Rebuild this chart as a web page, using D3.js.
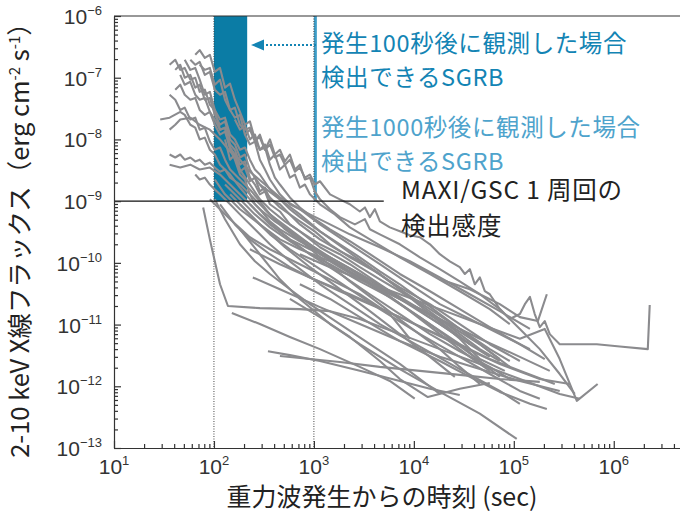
<!DOCTYPE html>
<html>
<head>
<meta charset="utf-8">
<script src="https://cdn.jsdelivr.net/npm/d3@7"></script>
<style>
  body { margin: 0; background: #fff; }
</style>
</head>
<body>
<div id="chart"></div>
<script>
/* SGRB X-ray light curves vs. MAXI/GSC sensitivity */

// axis ticks (powers of ten)
const xTickExps = [1, 2, 3, 4, 5, 6];
const yTickExps = [-13, -12, -11, -10, -9, -8, -7, -6];

// observation windows and sensitivity [sec] / [erg cm^-2 s^-1]
const window100 = [100, 215];
const window1000 = [1000, 1070];
const timeMarks = [100, 1000];
const maxiSensitivity = 1e-9;
const sensitivityEnd = 5000;

// light curves: [time (s), flux]
const lc01 = [[65,2.35e-7],[72,2.8e-7],[81,2.1e-7],[91,2.35e-7],[102,1.24e-7],[115,1.44e-7],[129,6.9e-8],[145,8.0e-8],[162,4.4e-8],[182,2.8e-8],[204,1.73e-8],[229,1.96e-8],[257,1.0e-8],[288,6.8e-9],[324,7.4e-9],[363,3.9e-9],[407,2.4e-9],[457,1.86e-9],[575,1.15e-9],[724,7.9e-10],[1020,5.1e-10],[1450,3.5e-10],[2290,2.24e-10],[4070,1.23e-10],[7240,6.6e-11],[1.45e4,3.47e-11],[2.88e4,1.78e-11],[5.75e4,9.1e-12],[1.15e5,4.8e-12],[2.04e5,2.76e-12]];
const lc02 = [[36,1.62e-7],[41,1.95e-7],[46,1.34e-7],[51,1.44e-7],[58,9.3e-8],[65,1.0e-7],[72,5.9e-8],[81,6.4e-8],[91,3.65e-8],[102,3.0e-8],[115,2.1e-8],[129,2.25e-8],[145,1.2e-8],[162,1.0e-8],[182,6.8e-9],[204,7.4e-9],[229,4.7e-9],[257,3.25e-9],[288,2.7e-9],[363,1.55e-9],[457,1.07e-9],[575,7.4e-10],[724,5.5e-10],[1150,3.24e-10],[1820,2.0e-10],[2880,1.23e-10],[4570,7.3e-11],[7240,4.5e-11],[1.15e4,2.6e-11],[1.82e4,1.48e-11],[2.88e4,8.5e-12],[4.57e4,4.8e-12],[7.24e4,2.76e-12]];
const lc03 = [[46,1.11e-7],[51,7.7e-8],[58,8.6e-8],[65,5.3e-8],[72,4.4e-8],[81,4.7e-8],[91,2.8e-8],[102,2.1e-8],[115,1.44e-8],[129,1.55e-8],[145,8.3e-9],[162,6.8e-9],[182,3.9e-9],[204,4.4e-9],[229,2.4e-9],[257,1.86e-9],[288,1.29e-9],[324,1.44e-9],[363,8.9e-10],[457,6.8e-10],[575,4.2e-10],[724,3.24e-10],[1150,2.0e-10],[1820,1.38e-10],[2880,8.5e-11],[4570,5.4e-11],[7240,3.47e-11],[1.15e4,2.14e-11],[1.82e4,1.23e-11],[2.88e4,7.0e-12],[4.57e4,4.0e-12],[7.24e4,2.57e-12]];
const lc04 = [[72,1.62e-7],[81,1.34e-7],[91,1.44e-7],[102,7.7e-8],[115,9.3e-8],[129,4.4e-8],[145,3.0e-8],[162,3.27e-8],[182,1.73e-8],[204,1.44e-8],[229,1.55e-8],[257,1.0e-8],[288,1.07e-8],[324,6.8e-9],[363,8.3e-9],[407,5.1e-9],[457,5.7e-9],[513,3.9e-9],[575,4.7e-9],[646,3.0e-9],[724,3.5e-9],[813,2.4e-9],[912,2.7e-9],[1020,1.86e-9],[1150,2.1e-9],[1450,1.29e-9],[1820,1.07e-9],[2290,8.9e-10],[2880,6.8e-10],[3240,7.9e-10],[3630,5.5e-10],[4070,7.4e-10],[4570,4.7e-10],[5750,3.76e-10],[7240,3.24e-10],[9120,2.8e-10],[1.15e4,2.6e-10],[1.45e4,2.0e-10],[1.82e4,1.38e-10],[2.29e4,1.06e-10],[2.88e4,8.5e-11],[3.24e4,6.6e-11],[3.63e4,7.9e-11],[4.07e4,4.5e-11],[4.57e4,5.8e-11],[5.13e4,3.47e-11],[5.75e4,3.1e-11],[7.24e4,1.78e-11],[9.12e4,1.23e-11],[1.15e5,1.48e-11],[1.29e5,2.14e-11],[1.45e5,2.8e-11],[1.62e5,1.48e-11],[1.82e5,9.1e-12],[2.04e5,1.14e-11],[2.29e5,7.0e-12],[2.88e5,4.8e-12],[4.07e5,4.8e-12],[6.76e5,4.8e-12],[1.15e6,4.4e-12],[2.19e6,4.0e-12],[2.29e6,2.07e-11]];
const lc05 = [[41,1.34e-7],[46,1.62e-7],[51,1.0e-7],[58,1.11e-7],[65,6.9e-8],[72,7.7e-8],[81,4.4e-8],[91,4.7e-8],[102,2.5e-8],[115,1.73e-8],[129,1.96e-8],[145,1.0e-8],[162,8.3e-9],[182,5.1e-9],[204,5.7e-9],[229,3.25e-9],[257,2.4e-9],[288,1.86e-9],[363,1.15e-9],[457,7.9e-10],[575,6.1e-10],[724,4.2e-10],[1150,2.4e-10],[1820,1.55e-10],[2880,1.06e-10],[4570,6.6e-11],[7240,3.74e-11],[1.45e4,1.78e-11],[2.88e4,8.5e-12],[5.75e4,4.0e-12],[9.12e4,2.57e-12]];
const lc06 = [[51,1.95e-7],[58,1.34e-7],[65,1.44e-7],[72,9.3e-8],[81,5.3e-8],[91,5.9e-8],[102,3.0e-8],[115,1.44e-8],[129,1.55e-8],[145,6.8e-9],[162,4.7e-9],[182,2.7e-9],[204,2.24e-9],[229,1.29e-9],[257,8.9e-10],[288,7.4e-10],[363,4.7e-10],[457,3.5e-10],[724,2.24e-10],[1450,1.23e-10],[2880,6.6e-11],[7240,2.8e-11],[1.82e4,1.14e-11],[3.63e4,4.8e-12],[5.75e4,3.0e-12]];
const lc07 = [[58,1.95e-7],[65,1.62e-7],[72,1.8e-7],[81,1.11e-7],[91,1.24e-7],[102,6.4e-8],[115,5.3e-8],[129,5.9e-8],[145,3.0e-8],[162,2.25e-8],[182,2.5e-8],[204,1.2e-8],[229,8.3e-9],[257,9.2e-9],[288,4.7e-9],[324,3.25e-9],[363,2.24e-9],[457,1.29e-9],[575,8.9e-10],[912,6.1e-10],[1450,4.2e-10],[2290,2.9e-10],[4570,1.79e-10],[9120,1.06e-10],[1.82e4,5.8e-11],[3.63e4,3.1e-11],[7.24e4,1.65e-11],[1.45e5,8.5e-12]];
const lc08 = [[41,6.4e-8],[46,7.7e-8],[51,5.3e-8],[58,4.4e-8],[65,4.7e-8],[72,3.0e-8],[81,2.5e-8],[91,2.8e-8],[102,1.73e-8],[115,1.2e-8],[129,1.34e-8],[145,7.4e-9],[162,5.7e-9],[182,3.25e-9],[229,1.86e-9],[288,1.07e-9],[363,7.4e-10],[513,4.7e-10],[724,3.24e-10],[1150,1.79e-10],[2290,9.5e-11],[4570,4.5e-11],[9120,2.14e-11],[1.82e4,1.02e-11],[3.63e4,4.8e-12]];
const lc09 = [[29,2.1e-8],[36,2.25e-8],[46,2.8e-8],[51,2.5e-8],[58,1.73e-8],[65,1.55e-8],[72,1.0e-8],[81,1.07e-8],[91,6.8e-9],[102,5.7e-9],[115,3.9e-9],[145,2.7e-9],[182,1.66e-9],[229,1.07e-9],[288,7.4e-10],[407,4.7e-10],[575,3.24e-10],[912,2.0e-10],[1450,1.23e-10],[2880,6.6e-11],[7240,2.6e-11],[1.82e4,1.02e-11],[3.63e4,4.8e-12]];
const lc10 = [[36,5.3e-8],[41,4.4e-8],[46,3.0e-8],[51,3.27e-8],[58,2.1e-8],[65,2.25e-8],[72,1.44e-8],[81,1.55e-8],[91,9.2e-9],[102,6.8e-9],[115,7.4e-9],[129,4.7e-9],[145,3.25e-9],[182,2.24e-9],[229,1.55e-9],[288,9.9e-10],[363,6.1e-10],[513,3.76e-10],[724,2.4e-10],[1150,1.38e-10],[2040,7.9e-11],[3630,4.5e-11],[7240,2.14e-11],[1.45e4,1.02e-11],[2.88e4,4.8e-12],[4.57e4,2.57e-12]];
const lc11 = [[36,1.44e-8],[41,1.73e-8],[46,2.1e-8],[58,2.25e-8],[72,1.73e-8],[91,1.44e-8],[115,1.0e-8],[145,6.35e-9],[182,4.7e-9],[229,3.0e-9],[324,1.86e-9],[457,1.15e-9],[724,7.4e-10],[1150,4.2e-10],[2290,2.0e-10],[4570,9.5e-11],[9120,4.5e-11],[1.82e4,2.14e-11],[3.63e4,1.23e-11],[7.24e4,7.0e-12],[1.45e5,4.0e-12]];
const lc12 = [[36,5.7e-9],[41,5.1e-9],[46,5.7e-9],[51,4.7e-9],[58,5.1e-9],[65,4.4e-9],[72,4.7e-9],[81,3.9e-9],[91,4.2e-9],[102,3.5e-9],[115,3.0e-9],[129,3.25e-9],[145,2.4e-9],[182,1.86e-9],[229,1.29e-9],[288,8.9e-10],[363,6.1e-10],[575,3.5e-10],[912,2.0e-10],[1450,1.15e-10],[2880,5.8e-11],[7240,2.6e-11],[1.82e4,1.23e-11],[4.57e4,5.9e-12],[1.15e5,3.0e-12],[2.29e5,1.78e-12]];
const lc13 = [[36,3.9e-9],[46,3.5e-9],[58,3.9e-9],[72,3.25e-9],[91,3.5e-9],[115,2.7e-9],[145,1.86e-9],[182,1.29e-9],[229,8.9e-10],[288,6.1e-10],[407,3.76e-10],[575,2.4e-10],[912,1.38e-10],[1820,6.6e-11],[3630,3.1e-11],[7240,1.48e-11],[1.45e4,7.0e-12],[2.88e4,3.7e-12],[5.75e4,2.06e-12],[9.12e4,1.31e-12]];
const lc14 = [[65,2.7e-9],[72,2.24e-9],[81,2.4e-9],[91,1.86e-9],[102,1.55e-9],[115,1.29e-9],[145,8.9e-10],[182,6.1e-10],[257,3.5e-10],[363,2.0e-10],[575,1.06e-10],[1150,4.5e-11],[2290,2.14e-11],[4570,1.02e-11],[1.15e4,4.4e-12],[2.88e4,1.9e-12],[7.24e4,8.4e-13],[1.15e5,5.2e-13]];
const lc15 = [[78,7.9e-10],[91,2.4e-10],[115,4.5e-11],[138,2.0e-11],[288,1.85e-11],[724,1.78e-11],[1450,1.65e-11],[2880,1.23e-11],[7240,7.0e-12],[1.82e4,4.0e-12],[4.57e4,2.3e-12],[1.15e5,1.31e-12],[2.88e5,7.5e-13],[4.57e5,6.3e-13]];
const lc16 = [[151,1.54e-11],[288,1.02e-11],[575,6.3e-12],[1150,4.0e-12],[2880,2.06e-12],[5750,1.22e-12],[1.02e4,6.3e-13]];
const lc17 = [[347,3.7e-12],[575,3.2e-12],[1150,2.57e-12],[2880,1.78e-12],[7240,1.22e-12],[1.45e4,9.1e-13],[2.88e4,7.2e-13]];
const lc18 = [[457,3.1e-12],[912,2.76e-12],[1820,2.48e-12],[4570,2.06e-12],[1.15e4,1.78e-12],[2.88e4,1.53e-12],[7.24e4,1.31e-12],[1.82e5,1.18e-12]];
const lc19 = [[182,3.5e-10],[288,1.38e-10],[457,5.4e-11],[724,2.6e-11],[1450,1.02e-11],[2880,4.8e-12],[7240,1.9e-12],[1.82e4,8.1e-13],[4.57e4,3.6e-13],[1.07e5,1.4e-13]];
const lc20 = [[102,1.07e-9],[129,5.1e-10],[182,2.0e-10],[257,1.06e-10],[363,6.6e-11],[575,3.74e-11],[912,2.14e-11],[1820,1.02e-11],[3630,4.8e-12],[7240,2.3e-12],[1.82e4,7.5e-13]];
const lc21 = [[115,8.9e-10],[162,4.2e-10],[229,2.4e-10],[363,1.38e-10],[575,8.5e-11],[912,5.8e-11],[1820,3.47e-11],[3630,2.14e-11],[7240,1.32e-11],[1.45e4,7.9e-12],[2.88e4,4.8e-12],[5.75e4,2.76e-12],[1.15e5,1.78e-12],[2.57e5,1.09e-12]];
const lc22 = [[129,1.86e-9],[182,1.07e-9],[257,6.1e-10],[363,3.76e-10],[575,2.24e-10],[912,1.38e-10],[1450,9.5e-11],[2880,5.0e-11],[5750,2.8e-11],[1.15e4,1.32e-11],[2.29e4,5.9e-12],[4.57e4,2.57e-12],[7.24e4,1.42e-12]];
const lc23 = [[575,2.6e-11],[1150,1.32e-11],[2290,6.3e-12],[4570,2.57e-12],[7240,1.31e-12],[1.38e4,6.7e-13],[2.88e4,9.1e-13],[5.75e4,1.13e-12]];
const lc24 = [[724,4.5e-11],[1450,2.6e-11],[2880,1.32e-11],[7240,5.4e-12],[1.82e4,2.57e-12],[3.63e4,1.42e-12],[7.24e4,8.1e-13],[1.45e5,5.2e-13],[2.14e5,4.3e-13]];
const lc25 = [[229,1.66e-10],[457,9.5e-11],[912,5.8e-11],[2290,3.1e-11],[7240,1.32e-11],[2.29e4,5.4e-12],[7.24e4,2.3e-12],[1.82e5,1.31e-12],[3.63e5,1.09e-12]];
const lc26 = [[724,1.38e-10],[1450,8.5e-11],[2880,5.4e-11],[7240,3.1e-11],[1.82e4,1.78e-11],[4.57e4,1.02e-11],[1.15e5,5.9e-12],[2.04e5,8.5e-12],[2.88e5,2.76e-12],[4.27e5,5.8e-13],[6.9e5,1.09e-12]];
const lc27 = [[204,1.2e-8],[229,1.44e-8],[257,9.2e-9],[288,1.2e-8],[324,6.8e-9],[363,1.0e-8],[407,5.7e-9],[457,6.8e-9],[513,4.4e-9],[575,5.7e-9],[646,3.25e-9],[724,3.9e-9],[813,2.24e-9],[912,2.4e-9],[1020,1.44e-9],[1150,1.07e-9],[1450,7.4e-10],[1820,5.5e-10],[2570,4.2e-10],[3240,5.1e-10],[3630,3.5e-10],[4570,2.9e-10],[7240,2.0e-10],[1.15e4,1.23e-10],[1.82e4,7.9e-11],[2.88e4,5.0e-11],[4.57e4,3.1e-11],[7.24e4,1.78e-11],[1.15e5,8.5e-12],[1.82e5,4.0e-12],[2.88e5,1.58e-12],[4.07e5,7.5e-13]];
const lc28 = [[91,1.07e-9],[145,5.1e-10],[229,2.6e-10],[363,1.66e-10],[724,9.5e-11],[1450,5.4e-11],[2880,3.1e-11],[5750,1.48e-11],[9120,5.9e-12]];
const lc29 = [[145,1.29e-9],[229,6.1e-10],[363,2.9e-10],[575,1.66e-10],[1150,7.9e-11],[2290,3.74e-11],[4570,1.78e-11],[1.15e4,7.0e-12],[2.88e4,3.0e-12],[5.75e4,1.58e-12],[1.15e5,8.4e-13],[1.82e5,6.3e-13]];
const lc30 = [[288,1.86e-9],[457,1.07e-9],[724,6.1e-10],[1150,3.24e-10],[2040,1.66e-10],[3630,8.5e-11],[7240,3.74e-11],[1.45e4,1.48e-11],[2.88e4,5.9e-12],[4.57e4,2.76e-12],[8.13e4,1.78e-12]];
const lc31 = [[102,2.24e-9],[129,1.29e-9],[182,7.4e-10],[288,4.2e-10],[457,2.4e-10],[724,1.66e-10],[1450,1.06e-10],[2880,5.4e-11],[7240,2.6e-11],[1.82e4,1.23e-11],[4.57e4,4.8e-12],[9.12e4,2.06e-12]];
const lc32 = [[182,8.9e-10],[288,4.2e-10],[513,1.79e-10],[912,8.5e-11],[1820,3.74e-11],[3630,1.65e-11],[7240,7.0e-12],[1.45e4,3.0e-12],[2.57e4,1.42e-12]];
const lc33 = [[245,5.8e-11],[457,3.74e-11],[1150,1.92e-11],[2880,1.02e-11],[7240,5.4e-12],[1.82e4,3.0e-12],[4.57e4,1.9e-12],[1.15e5,1.22e-12],[2.88e5,8.4e-13]];
const lc34 = [[1.82e4,5.4e-11],[3.63e4,3.74e-11],[7.24e4,2.14e-11],[1.15e5,1.32e-11],[1.74e5,1.14e-11],[2.14e5,3.1e-11]];
const lc35 = [[162,2.1e-8],[182,1.44e-8],[204,1.67e-8],[229,1.0e-8],[257,1.2e-8],[288,6.8e-9],[324,8.3e-9],[363,4.7e-9],[407,5.7e-9],[457,3.25e-9],[513,3.9e-9],[575,2.4e-9],[646,2.7e-9],[724,1.66e-9],[813,1.86e-9],[912,1.29e-9],[1150,8.9e-10],[1620,6.1e-10],[2290,3.76e-10],[3630,2.4e-10],[7240,1.23e-10],[1.45e4,6.6e-11],[2.88e4,3.47e-11],[5.75e4,1.78e-11],[9.12e4,1.02e-11]];
const lc36 = [[129,1.0e-8],[145,4.7e-9],[162,5.7e-9],[182,3.0e-9],[204,3.5e-9],[229,2.1e-9],[257,2.4e-9],[288,1.44e-9],[324,1.66e-9],[363,1.07e-9],[457,8.9e-10],[575,6.1e-10],[724,4.7e-10],[1020,3.24e-10],[1450,2.0e-10],[2290,1.23e-10],[4070,7.3e-11],[7240,4.0e-11],[1.45e4,2.14e-11],[2.88e4,1.02e-11],[5.75e4,4.8e-12],[1.15e5,2.57e-12]];
const lc37 = [[229,8.9e-10],[363,4.2e-10],[575,2.4e-10],[912,1.66e-10],[1450,1.23e-10],[2290,7.9e-11],[4570,3.74e-11],[9120,1.65e-11],[1.82e4,7.0e-12],[3.63e4,3.0e-12],[5.75e4,1.78e-12]];
const lc38 = [[324,7.4e-10],[513,3.5e-10],[813,2.0e-10],[1290,1.06e-10],[2290,5.0e-11],[4570,2.14e-11],[9120,9.1e-12],[1.82e4,4.0e-12],[2.88e4,2.06e-12],[4.57e4,1.09e-12]];

const lightCurves = [lc01, lc02, lc03, lc04, lc05, lc06, lc07, lc08, lc09, lc10,
    lc11, lc12, lc13, lc14, lc15, lc16, lc17, lc18, lc19, lc20, lc21, lc22,
    lc23, lc24, lc25, lc26, lc27, lc28, lc29, lc30, lc31, lc32, lc33, lc34,
    lc35, lc36, lc37, lc38];

// annotation texts
const note100 = ["発生100秒後に観測した場合", "検出できるSGRB"];
const note1000 = ["発生1000秒後に観測した場合", "検出できるSGRB"];
const noteMaxi = ["MAXI/GSC 1 周回の", "検出感度"];
const xTitle = "重力波発生からの時刻 (sec)";

const width = 680,
      height = 518,
      margin = ({ top: 16, right: 0, bottom: 70, left: 114 });

const blueDark = "#0b7ca5",
      blueLight = "#3d9dc8",
      text100 = "#1384b4",
      text1000 = "#4ea3cc",
      gray = "#8b8b8e";

const jp = "'Noto Sans CJK JP', 'Noto Sans', sans-serif";
const num = "'Liberation Sans', Arial, sans-serif";

let svg = d3.select("#chart")
    .append("svg")
    .attr("width", width)
    .attr("height", height)
    .style("display", "block");

let x = d3.scaleLog()
    .domain([10, 4.6e6])
    .range([margin.left, width - margin.right]);

let y = d3.scaleLog()
    .domain([1e-13, 1e-6])
    .range([height - margin.bottom, margin.top]);

// blue observation windows (above the sensitivity line)
svg.append("rect")
    .attr("x", x(window100[0]))
    .attr("width", x(window100[1]) - x(window100[0]))
    .attr("y", y(1e-6))
    .attr("height", y(maxiSensitivity) - y(1e-6))
    .attr("fill", blueDark);

svg.append("rect")
    .attr("x", x(window1000[0]))
    .attr("width", x(window1000[1]) - x(window1000[0]))
    .attr("y", y(1e-6))
    .attr("height", y(maxiSensitivity) - y(1e-6))
    .attr("fill", blueLight);

// dotted verticals at 100 s and 1000 s
svg.selectAll(".mark")
    .data(timeMarks)
    .join("line")
    .attr("x1", d => x(d))
    .attr("x2", d => x(d))
    .attr("y1", y(1e-6))
    .attr("y2", y(1e-13))
    .attr("stroke", "#444")
    .attr("stroke-width", 1)
    .attr("stroke-dasharray", "1,1.5");

// light curves
let line = d3.line()
    .x(d => x(d[0]))
    .y(d => y(d[1]));

svg.append("g")
    .selectAll("path")
    .data(lightCurves)
    .join("path")
    .attr("d", line)
    .attr("fill", "none")
    .attr("stroke", gray)
    .attr("stroke-width", 2.1)
    .attr("stroke-linejoin", "round");

// MAXI sensitivity line
svg.append("line")
    .attr("x1", x(10))
    .attr("x2", x(sensitivityEnd))
    .attr("y1", y(maxiSensitivity))
    .attr("y2", y(maxiSensitivity))
    .attr("stroke", "#111")
    .attr("stroke-width", 1.4);

// axes: majors + minors, ticks pointing inward
let xMinor = [];
for (let e = 1; e <= 6; e++) {
    for (let k = 2; k <= 9; k++) {
        if (k * 10 ** e <= 4.6e6) xMinor.push(k * 10 ** e);
    }
}
let yMinor = [];
for (let e = -13; e < -6; e++) {
    for (let k = 2; k <= 9; k++) yMinor.push(k * 10 ** e);
}

let gx = svg.append("g")
    .attr("transform", `translate(0,${y(1e-13)})`);
gx.call(d3.axisBottom(x).tickValues(xTickExps.map(e => 10 ** e)).tickSize(-7).tickSizeOuter(0).tickFormat(""));
gx.append("g").call(d3.axisBottom(x).tickValues(xMinor).tickSize(-4).tickSizeOuter(0).tickFormat(""))
    .select(".domain").remove();

let gy = svg.append("g")
    .attr("transform", `translate(${x(10)},0)`);
gy.call(d3.axisLeft(y).tickValues(yTickExps.map(e => 10 ** e)).tickSize(-7).tickSizeOuter(0).tickFormat(""));
gy.append("g").call(d3.axisLeft(y).tickValues(yMinor).tickSize(-4).tickSizeOuter(0).tickFormat(""))
    .select(".domain").remove();

svg.selectAll(".domain, .tick line")
    .attr("stroke", "#333")
    .attr("stroke-width", 1.2);

// top frame line
svg.append("line")
    .attr("x1", x(10))
    .attr("x2", width)
    .attr("y1", y(1e-6))
    .attr("y2", y(1e-6))
    .attr("stroke", "#333")
    .attr("stroke-width", 1.2);

// tick labels 10^n
let xl = svg.selectAll(".xl")
    .data(xTickExps)
    .join("text")
    .attr("x", d => x(10 ** d))
    .attr("y", y(1e-13) + 26)
    .attr("text-anchor", "middle")
    .style("font-family", num)
    .style("font-size", "21px")
    .style("fill", "#333");
xl.append("tspan").text("10");
xl.append("tspan").attr("dy", -9).style("font-size", "13px").text(d => d);

let yl = svg.selectAll(".yl")
    .data(yTickExps)
    .join("text")
    .attr("x", 102)
    .attr("y", d => y(10 ** d) + 8)
    .attr("text-anchor", "end")
    .style("font-family", num)
    .style("font-size", "21px")
    .style("fill", "#333");
yl.append("tspan").text("10");
yl.append("tspan").attr("dy", -9).style("font-size", "13px").text(d => "\u2212" + Math.abs(d));

// axis titles
svg.append("text")
    .attr("x", 382)
    .attr("y", 506)
    .attr("text-anchor", "middle")
    .style("font-family", jp)
    .style("font-size", "25px")
    .style("fill", "#222")
    .text(xTitle);

let yt = svg.append("text")
    .attr("transform", "translate(29,234) rotate(-90)")
    .attr("text-anchor", "middle")
    .style("font-family", jp)
    .style("font-size", "25.5px")
    .style("fill", "#222");
yt.append("tspan").text("2-10 keV X線フラックス（erg cm");
yt.append("tspan").attr("dy", -9).style("font-size", "15px").text("-2");
yt.append("tspan").attr("dy", 9).text(" s");
yt.append("tspan").attr("dy", -9).style("font-size", "15px").text("-1");
yt.append("tspan").attr("dy", 9).text("）");

// annotations: one text per line
function note(lines, x0, y0, gap, color, size, spacing) {
    svg.append("g")
        .selectAll("text")
        .data(lines)
        .join("text")
        .attr("x", x0)
        .attr("y", (d, i) => y0 + i * gap)
        .style("font-family", jp)
        .style("font-size", size)
        .style("letter-spacing", spacing)
        .style("fill", color)
        .text(d => d);
}
note(note100, 321, 52, 34, text100, "23.5px", "0.6px");
note(note1000, 321, 136, 34, text1000, "23.5px", "0.6px");
note(noteMaxi, 401, 199, 36, "#222", "24.5px", "0.8px");

// dotted arrow pointing at the 100 s window
svg.append("line")
    .attr("x1", 262)
    .attr("x2", 318)
    .attr("y1", 45)
    .attr("y2", 45)
    .attr("stroke", text100)
    .attr("stroke-width", 2)
    .attr("stroke-dasharray", "2,2");

svg.append("path")
    .attr("d", "M251,45 L264,39.5 L264,50.5 Z")
    .attr("fill", text100);
</script>
</body>
</html>
